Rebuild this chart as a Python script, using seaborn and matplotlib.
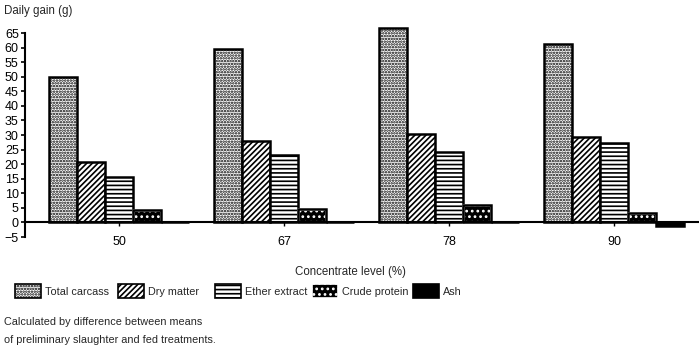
import matplotlib
matplotlib.use("Agg")
import matplotlib.pyplot as plt
import seaborn as sns
import pandas as pd
from matplotlib.patches import Rectangle, Patch

# Concentrate levels (%) and daily gain of each carcass component (g)
levels = ["50", "67", "78", "90"]
components = ["Total carcass", "Dry matter", "Ether extract", "Crude protein", "Ash"]
total_carcass = [49.8, 59.4, 66.8, 61.3]
dry_matter = [20.8, 28.0, 30.2, 29.4]
ether_extract = [15.6, 23.0, 24.2, 27.3]
crude_protein = [4.4, 4.5, 5.9, 3.3]
ash = [0.3, 0.2, 0.1, -1.2]
y_ticks = list(range(-5, 70, 5))

series = [total_carcass, dry_matter, ether_extract, crude_protein, ash]
df = pd.DataFrame(
    [(lvl, comp, vals[i]) for comp, vals in zip(components, series)
     for i, lvl in enumerate(levels)],
    columns=["level", "component", "gain"],
)

sns.set_theme(style="white")
plt.rcParams["font.family"] = ["Liberation Sans", "DejaVu Sans"]
plt.rcParams["hatch.linewidth"] = 1.2

FS = 7.8

fig = plt.figure(figsize=(6.99, 3.49), dpi=100)
ax = fig.add_axes([25 / 699, 0.3209, 674 / 699, 0.5845])

sns.barplot(data=df, x="level", y="gain", hue="component", order=levels,
            hue_order=components, palette=["white"] * 5, width=0.85,
            edgecolor="black", linewidth=1.8, legend=False, ax=ax,
            saturation=1)

styles = {
    "Total carcass": dict(face="white", edge="black", hatch="......"),
    "Dry matter": dict(face="white", edge="black", hatch="//////"),
    "Ether extract": dict(face="white", edge="black", hatch="----"),
    "Crude protein": dict(face="black", edge="white", hatch="..."),
    "Ash": dict(face="black", edge="black", hatch=None),
}

for comp, cont in zip(components, ax.containers):
    st = styles[comp]
    for p in cont.patches:
        p.set_facecolor(st["face"])
        p.set_edgecolor(st["edge"])
        p.set_clip_on(False)
        if st["hatch"]:
            p.set_hatch(st["hatch"])
        if st["edge"] != "black":
            ax.add_patch(Rectangle(p.get_xy(), p.get_width(), p.get_height(),
                                   fill=False, edgecolor="black", linewidth=1.8,
                                   zorder=p.get_zorder() + 0.1, clip_on=False))

ax.set_xlim(-0.57, 3.515)
ax.set_ylim(-5, 65)
ax.set_yticks(y_ticks)
ax.set_yticklabels([str(t).replace("-", "\u2212") for t in y_ticks])

for side in ["top", "right"]:
    ax.spines[side].set_visible(False)
ax.spines["bottom"].set_position(("data", 0))
ax.spines["bottom"].set_linewidth(1.5)
ax.spines["left"].set_linewidth(1.5)
for s in ["bottom", "left"]:
    ax.spines[s].set_color("black")

ax.tick_params(axis="y", direction="out", length=3, width=1.2, pad=1.5,
               labelsize=9, colors="black", left=True)
ax.tick_params(axis="x", direction="out", length=3, width=1.0, pad=7,
               labelsize=9, colors="black", bottom=True)
ax.set_xlabel("")
ax.set_ylabel("")

fig.text(4 / 699, 1 - 11 / 349, "Daily gain (g)", fontsize=FS + 0.5, va="center", ha="left")
fig.text(350 / 699, 1 - 272 / 349, "Concentrate level (%)", fontsize=FS + 0.5,
         va="center", ha="center")

# one legend entry per component, laid out along the bottom row
legend_x = [15, 118, 215, 312, 413]
for comp, lx in zip(components, legend_x):
    st = styles[comp]
    h = Patch(facecolor=st["face"], edgecolor=st["edge"], hatch=st["hatch"],
              linewidth=1.2)
    fig.legend([h], [comp], loc="center left",
               bbox_to_anchor=(lx / 699, 1 - 291 / 349), frameon=False,
               fontsize=FS, handlelength=2.4, handleheight=1.5,
               handletextpad=0.35, borderaxespad=0, borderpad=0)

fig.text(4 / 699, 1 - 322 / 349, "Calculated by difference between means",
         fontsize=FS, va="center", ha="left")
fig.text(4 / 699, 1 - 340 / 349, "of preliminary slaughter and fed treatments.",
         fontsize=FS, va="center", ha="left")

fig.savefig("out.png", dpi=100)
